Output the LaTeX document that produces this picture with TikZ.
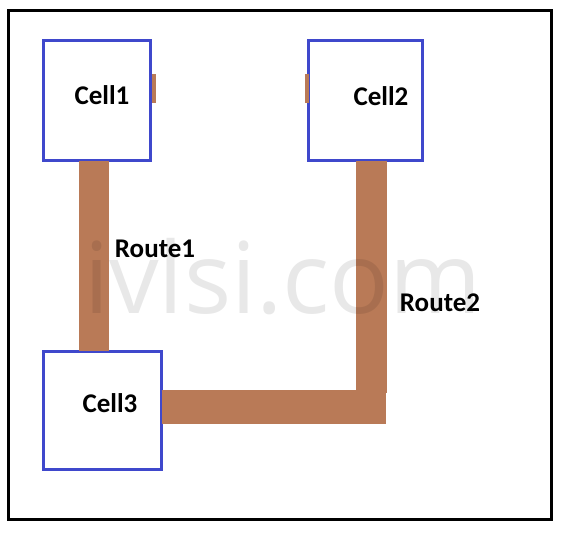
\documentclass[tikz,border=0pt]{standalone}
\usepackage{fontspec}
\setmainfont{Carlito}
\newfontfamily\wmfont{Open Sans}
\definecolor{paintblue}{RGB}{63,72,204}
\definecolor{paintbrown}{RGB}{185,122,87}
\begin{document}
\begin{tikzpicture}[x=1pt,y=-1pt,
  cellbox/.style={draw=paintblue,line width=3pt,fill=white,inner sep=0,outer sep=0,anchor=north west},
  lbl/.style={font=\fontsize{27}{30}\selectfont\bfseries,inner sep=0},
  route/.style={draw=paintbrown,line cap=butt}]
\useasboundingbox (0,0) rectangle (564,535);
\fill[white] (0,0) rectangle (564,535);
\draw[line width=3pt] (8.5,11) rectangle (551,519);
% cells
\node[cellbox,minimum width=107pt,minimum height=120pt] (cell1) at (43.5,40.5) {};
\node[cellbox,minimum width=114pt,minimum height=120pt] (cell2) at (308.5,40.5) {};
\node[cellbox,minimum width=118pt,minimum height=118pt] (cell3) at (43.5,351) {};
% small pin stubs
\coordinate (p1a) at (153.8,74); \coordinate (p1b) at (153.8,103);
\coordinate (p2a) at (307,74); \coordinate (p2b) at (307,103);
\draw[route,line width=3.5pt] (p1a) -- (p1b);
\draw[route,line width=3.5pt] (p2a) -- (p2b);
% routes
\coordinate (r1x) at (94,0);
\coordinate (r2x) at (371.5,0);
\coordinate (r2y) at (0,407);
\coordinate (corner) at (371.5,393);
\draw[route,line width=30pt] (cell1.south -| r1x) -- (cell3.north -| r1x);
\draw[route,line width=31pt] (cell2.south -| r2x) -- (corner);
\coordinate (hend) at (386,407);
\draw[route,line width=34pt] (cell3.east |- r2y) -- (hend);
% labels
\node[lbl] (t1) at (102,95) {Cell1};
\node[lbl] (t2) at (381,96) {Cell2};
\node[lbl] (t3) at (110,403) {Cell3};
\node[lbl] (t4) at (155,249) {Route1};
\node[lbl] (t5) at (440,303) {Route2};
% watermark
\node[font=\wmfont\fontsize{99}{104}\selectfont,text=black,text opacity=0.09,anchor=base,inner sep=0] (wm) at (283,313) {ivlsi.com};
\end{tikzpicture}
\end{document}
